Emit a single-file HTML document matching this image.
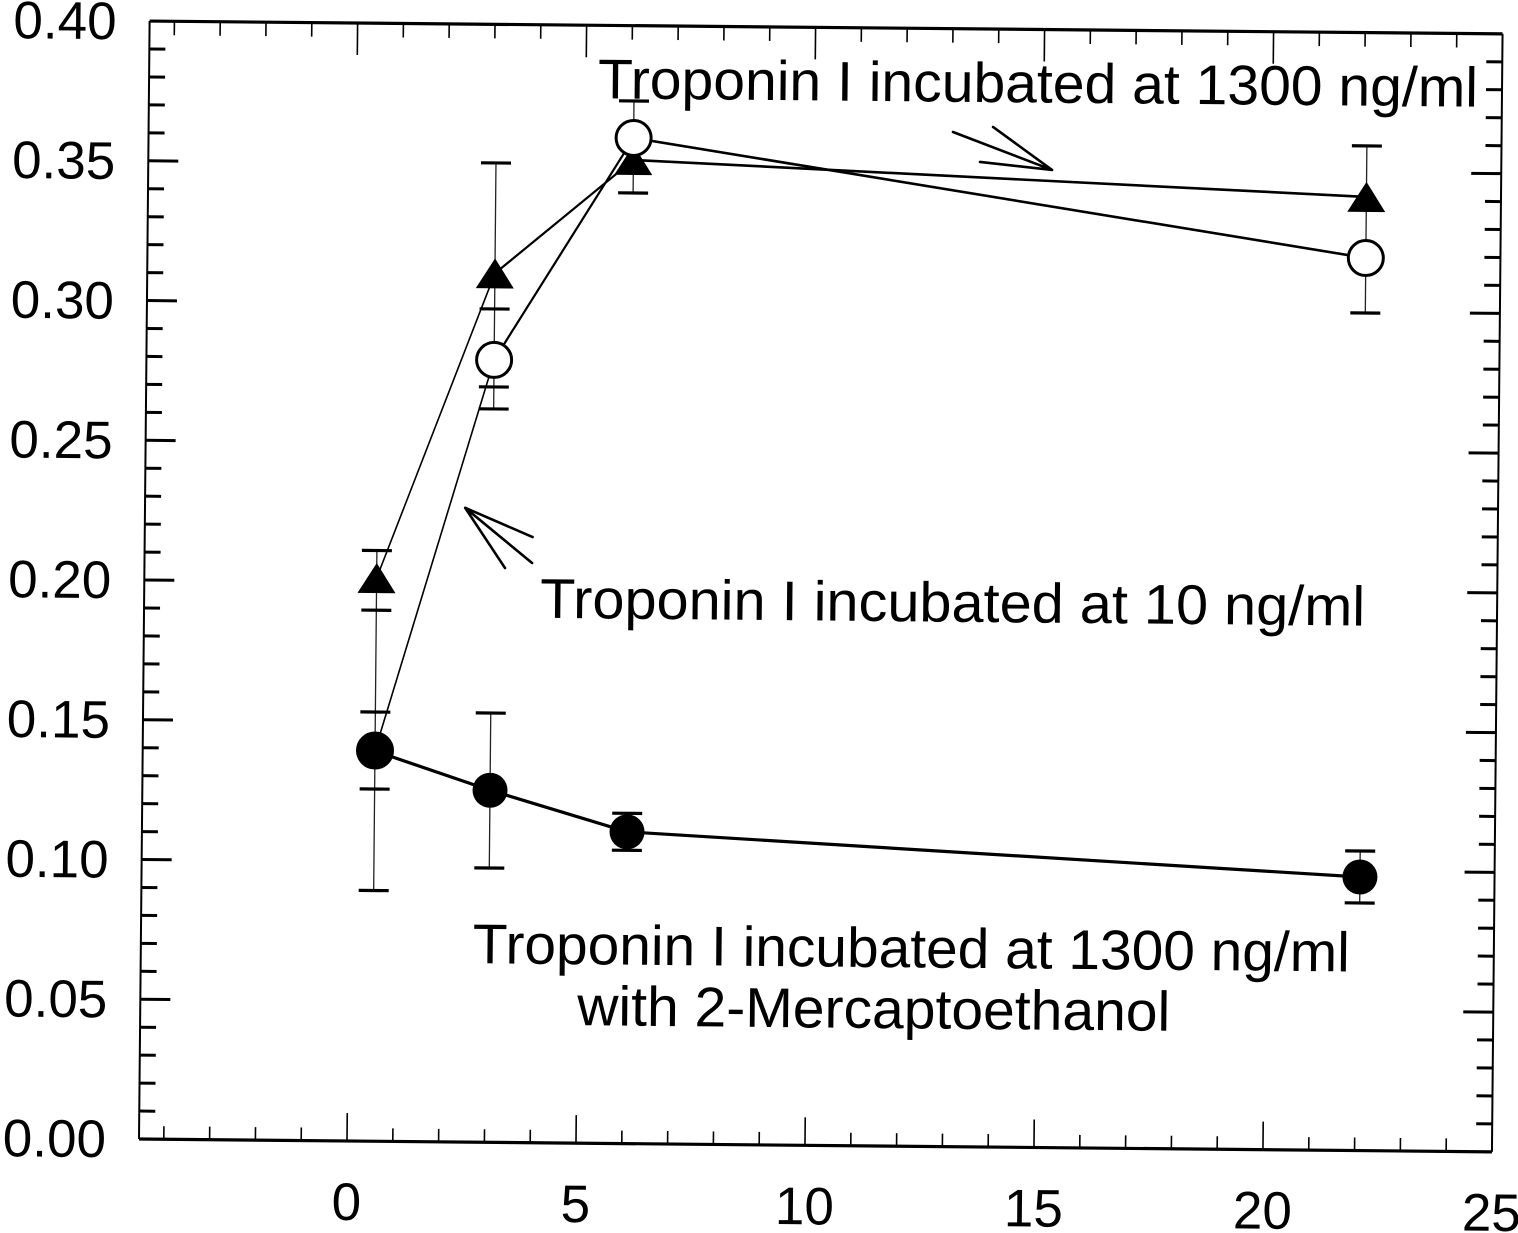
<!DOCTYPE html>
<html>
<head>
<meta charset="utf-8">
<style>
  html,body{margin:0;padding:0;background:#fff;}
  svg{display:block;}
  text{font-family:"Liberation Sans", Arial, sans-serif; fill:#000;}
</style>
</head>
<body>
<svg width="1518" height="1233" viewBox="0 0 1518 1233" xmlns="http://www.w3.org/2000/svg">
<rect width="1518" height="1233" fill="#fff"/>
<g transform="rotate(0.544 139 1139)">
  <!-- frame -->
  <path d="M139 21 H1492" stroke="#000" stroke-width="3.2" fill="none"/>
  <path d="M139 1139 H1492" stroke="#000" stroke-width="3.2" fill="none"/>
  <path d="M139 21 V1139" stroke="#000" stroke-width="2" fill="none"/>
  <path d="M1492 21 V1139" stroke="#000" stroke-width="2" fill="none"/>

  <!-- left ticks -->
  <path stroke="#000" stroke-width="3" fill="none" d="
  M139 1111.05h16 M139 1083.1h16 M139 1055.15h16 M139 1027.2h16 M139 999.25h30
  M139 971.3h16 M139 943.35h16 M139 915.4h16 M139 887.45h16 M139 859.5h30
  M139 831.55h16 M139 803.6h16 M139 775.65h16 M139 747.7h16 M139 719.75h30
  M139 691.8h16 M139 663.85h16 M139 635.9h16 M139 607.95h16 M139 580h30
  M139 552.05h16 M139 524.1h16 M139 496.15h16 M139 468.2h16 M139 440.25h30
  M139 412.3h16 M139 384.35h16 M139 356.4h16 M139 328.45h16 M139 300.5h30
  M139 272.55h16 M139 244.6h16 M139 216.65h16 M139 188.7h16 M139 160.75h30
  M139 132.8h16 M139 104.85h16 M139 76.9h16 M139 48.95h16"/>
  <!-- right ticks -->
  <path stroke="#000" stroke-width="3" fill="none" d="
  M1492 1111.05h-16 M1492 1083.1h-16 M1492 1055.15h-16 M1492 1027.2h-16 M1492 999.25h-30
  M1492 971.3h-16 M1492 943.35h-16 M1492 915.4h-16 M1492 887.45h-16 M1492 859.5h-30
  M1492 831.55h-16 M1492 803.6h-16 M1492 775.65h-16 M1492 747.7h-16 M1492 719.75h-30
  M1492 691.8h-16 M1492 663.85h-16 M1492 635.9h-16 M1492 607.95h-16 M1492 580h-30
  M1492 552.05h-16 M1492 524.1h-16 M1492 496.15h-16 M1492 468.2h-16 M1492 440.25h-30
  M1492 412.3h-16 M1492 384.35h-16 M1492 356.4h-16 M1492 328.45h-16 M1492 300.5h-30
  M1492 272.55h-16 M1492 244.6h-16 M1492 216.65h-16 M1492 188.7h-16 M1492 160.75h-30
  M1492 132.8h-16 M1492 104.85h-16 M1492 76.9h-16 M1492 48.95h-16"/>
  <!-- bottom ticks -->
  <path stroke="#000" stroke-width="1.6" fill="none" d="
  M163.8 1139v-13 M209.6 1139v-13 M255.4 1139v-13 M301.2 1139v-13 M347 1139v-28
  M392.8 1139v-13 M438.6 1139v-13 M484.4 1139v-13 M530.2 1139v-13 M576 1139v-28
  M621.8 1139v-13 M667.6 1139v-13 M713.4 1139v-13 M759.2 1139v-13 M805 1139v-28
  M850.8 1139v-13 M896.6 1139v-13 M942.4 1139v-13 M988.2 1139v-13 M1034 1139v-28
  M1079.8 1139v-13 M1125.6 1139v-13 M1171.4 1139v-13 M1217.2 1139v-13 M1263 1139v-28
  M1308.8 1139v-13 M1354.6 1139v-13 M1400.4 1139v-13 M1446.2 1139v-13"/>
  <!-- top ticks -->
  <path stroke="#000" stroke-width="1.6" fill="none" d="
  M163.8 21v14 M209.6 21v14 M255.4 21v14 M301.2 21v14 M347 21v32
  M392.8 21v14 M438.6 21v14 M484.4 21v14 M530.2 21v14 M576 21v32
  M621.8 21v14 M667.6 21v14 M713.4 21v14 M759.2 21v14 M805 21v32
  M850.8 21v14 M896.6 21v14 M942.4 21v14 M988.2 21v14 M1034 21v32
  M1079.8 21v14 M1125.6 21v14 M1171.4 21v14 M1217.2 21v14 M1263 21v32
  M1308.8 21v14 M1354.6 21v14 M1400.4 21v14 M1446.2 21v14"/>

  <!-- y labels -->
  <g font-size="53" text-anchor="end">
    <text x="106" y="1157.5">0.00</text>
    <text x="106" y="1017.75">0.05</text>
    <text x="106" y="878">0.10</text>
    <text x="106" y="738.25">0.15</text>
    <text x="106" y="598.5">0.20</text>
    <text x="106" y="458.75">0.25</text>
    <text x="106" y="319">0.30</text>
    <text x="106" y="179.25">0.35</text>
    <text x="106" y="39.5">0.40</text>
  </g>
  <!-- x labels -->
  <g font-size="53" text-anchor="middle">
    <text x="347" y="1218">0</text>
    <text x="576" y="1218">5</text>
    <text x="805" y="1218">10</text>
    <text x="1034" y="1218">15</text>
    <text x="1263" y="1218">20</text>
    <text x="1492" y="1218">25</text>
  </g>

  <!-- connecting lines -->
  <polyline points="371.3,575.8 486.7,270" stroke="#000" stroke-width="1.6" fill="none"/>
  <polyline points="486.7,270 624.1,155.3" stroke="#000" stroke-width="2.2" fill="none"/>
  <polyline points="624.1,155.3 1357.4,185.3" stroke="#000" stroke-width="2.6" fill="none"/>
  <polyline points="371.3,748.3 486.7,356.6" stroke="#000" stroke-width="1.6" fill="none"/>
  <polyline points="486.7,356.6 624.1,133.3" stroke="#000" stroke-width="2.2" fill="none"/>
  <polyline points="624.1,133.3 1357.4,246.4" stroke="#000" stroke-width="2.6" fill="none"/>
  <polyline points="371.3,748.8 486.7,786.9 624.1,827.2 1357.4,865.4" stroke="#000" stroke-width="3.2" fill="none"/>

  <!-- error bars: vertical lines -->
  <g stroke="#222" stroke-width="1.3" fill="none">
    <path d="M371.3 548.3V608 M371.3 709.8V786.8 M371.3 608V888.3"/>
    <path d="M486.7 159.6V383.6 M486.7 305.6V405.6 M486.7 709.7V864.7"/>
    <path d="M624.1 122V188.3 M624.1 96.3V170.3 M624.1 808.7V845.7"/>
    <path d="M1357.4 134.3V236.3 M1357.4 191.4V301.4 M1357.4 839.4V891.4"/>
  </g>
  <!-- error bar caps -->
  <g stroke="#000" stroke-width="3.2" fill="none">
    <path d="M356.3 548.3h30 M356.3 608h30 M356.3 709.8h30 M356.3 786.8h30 M356.3 888.3h30"/>
    <path d="M471.7 159.6h30 M471.7 383.6h30 M471.7 305.6h30 M471.7 405.6h30 M471.7 709.7h30 M471.7 864.7h30"/>
    <path d="M609.1 188.3h30 M609.1 96.3h30 M609.1 808.7h30 M609.1 845.7h30"/>
    <path d="M1342.4 134.3h30 M1342.4 301.4h30 M1342.4 839.4h30 M1342.4 891.4h30"/>
  </g>

  <!-- triangles -->
  <g fill="#000">
    <polygon points="352.3,590.8 390.3,590.8 371.3,560.8"/>
    <polygon points="467.7,285 505.7,285 486.7,255"/>
    <polygon points="605.1,170.3 643.1,170.3 624.1,140.3"/>
    <polygon points="1338.4,200.3 1376.4,200.3 1357.4,170.3"/>
  </g>
  <!-- open circles -->
  <g fill="#fff" stroke="#000" stroke-width="3">
    <circle cx="371.3" cy="748.3" r="17.5"/>
    <circle cx="486.7" cy="356.6" r="17.5"/>
    <circle cx="624.1" cy="133.3" r="17.5"/>
    <circle cx="1357.4" cy="246.4" r="17.5"/>
  </g>
  <!-- closed circles -->
  <g fill="#000">
    <circle cx="371.3" cy="748.8" r="17.5"/>
    <circle cx="486.7" cy="786.9" r="17.5"/>
    <circle cx="624.1" cy="827.2" r="17.5"/>
    <circle cx="1357.4" cy="865.4" r="17.5"/>
  </g>

  <!-- arrows -->
  <g stroke="#000" stroke-width="2.6" fill="none" stroke-linecap="round">
    <path d="M943.4 124.3L1042.8 161.3 M983.4 118.9L1042.8 161.3 M970.7 154L1042.8 161.3"/>
    <path d="M459.2 504.8L526.9 533.3 M459.2 504.8L526.6 559.3 M459.2 504.8L499.6 564.6"/>
  </g>

  <!-- annotations -->
  <g font-size="56">
    <text x="588" y="94" textLength="880" lengthAdjust="spacingAndGlyphs">Troponin I incubated at 1300 ng/ml</text>
    <text x="535" y="614" textLength="825" lengthAdjust="spacingAndGlyphs">Troponin I incubated at 10 ng/ml</text>
    <text x="471" y="960" textLength="877" lengthAdjust="spacingAndGlyphs">Troponin I incubated at 1300 ng/ml</text>
    <text x="576" y="1021" textLength="593" lengthAdjust="spacingAndGlyphs">with 2-Mercaptoethanol</text>
  </g>
</g>
</svg>
</body>
</html>
